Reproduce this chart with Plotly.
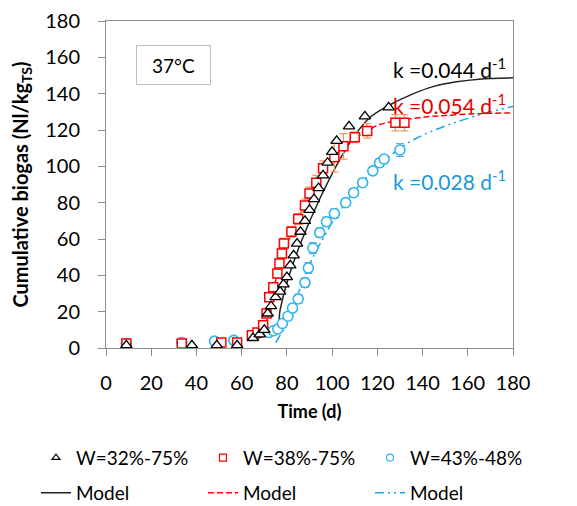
import plotly.graph_objects as go

# === data ===
t_32 = [9, 38, 49, 58, 65, 68, 70, 71.5, 73, 75, 77, 78.5, 80, 81.5, 83, 84.5,
        86, 88, 90, 92, 94, 96, 98, 100, 102, 107.5, 114.5, 125]
b_32 = [1.5, 1.5, 1.5, 1.5, 5.5, 7.5, 10, 19, 23, 28, 31, 35, 39, 45.5, 51, 57.5,
        64, 70, 76, 82, 88, 95, 102, 108, 114, 122, 127.5, 132.5]

t_38 = [9, 33.5, 51, 58, 64.5, 67, 69.5, 71, 72.2, 74, 75.8, 76.7, 77.8, 78.7,
        82, 85, 88, 90, 93, 96, 101, 105, 110, 115.5, 128, 132]
b_38 = [2.5, 2.5, 3, 3, 7, 8.5, 12.5, 19, 28, 33.5, 41, 46.5, 52, 57.5,
        64, 71, 78.5, 85, 91, 99, 105, 111, 116, 119.5, 124, 124]
e_38 = [0.5, 0.5, 0.5, 0.5, 1.5, 1.5, 2, 2, 2, 2, 2.5, 2.5, 3, 3,
        3, 3, 3.5, 3.5, 4, 4, 8, 7, 3, 4, 4.5, 4.5]

t_43 = [9, 33.5, 48, 56.5, 72, 74, 76, 78, 80.5, 82.5, 85, 88, 89.5, 91.5,
        94.5, 97.5, 101, 106, 109.5, 113.5, 118, 121, 123, 130]
b_43 = [2.5, 3, 3.8, 4.2, 8.5, 9.5, 10.5, 13.5, 17.5, 22, 27, 36, 44, 55,
        63.5, 69.5, 74, 80, 85.5, 91, 97.5, 102, 104, 109]
e_43 = [0.5, 0.5, 0.5, 0.5, 1, 1, 1, 1.5, 2, 2, 2.5, 2.5, 3, 3,
        2.5, 2.5, 2.5, 2, 2, 2, 2, 2, 2, 3.5]

# model curves
tm_32 = [64, 70, 75.5, 77, 80.5, 86.5, 94.5, 103.5, 110, 116.8, 125, 135, 145, 155, 165, 180]
bm_32 = [4.5, 6.5, 8.5, 21, 38, 59, 82, 104, 117, 127, 133.5, 139.5, 144, 146.5, 148, 148.7]

tm_38 = [64, 69, 72, 75, 78, 82, 86, 90, 95, 100, 105, 110, 116, 121, 128, 140, 150, 165, 180]
bm_38 = [5, 8, 20, 37, 51, 63, 74, 84, 95, 104, 110.5, 115.5, 119.8, 123, 124.8, 127, 128, 129, 129.4]

tm_43 = [75, 77, 80, 85, 90, 95, 100, 105, 110, 115, 120, 125, 130, 139, 153.6, 168, 180]
bm_43 = [3, 7, 14, 30, 46, 58, 69, 78, 86.5, 93.5, 99.5, 105, 110, 116.5, 123.8, 129.3, 133]

series_names = ["W=32%-75%", "W=38%-75%", "W=43%-48%"]
k_labels = ["k =0.044 d<sup>-1</sup>", "k =0.054 d<sup>-1</sup>", "k =0.028 d<sup>-1</sup>"]
k_y = [154, 134.5, 92.5]

BLACK = "#000000"
RED = "#FF0000"
BLUE = "#2EB5EE"
FONT = "Lato"

fig = go.Figure()

# model lines first so the markers sit on top (these go in the second legend row)
fig.add_trace(go.Scatter(x=tm_32, y=bm_32, mode="lines", name="Model", line_shape="spline",
                         line=dict(color="#222222", width=1.5), legend="legend2"))
fig.add_trace(go.Scatter(x=tm_38, y=bm_38, mode="lines", name="Model", line_shape="spline",
                         line=dict(color=RED, width=1.5, dash="6px,3px"), legend="legend2"))
fig.add_trace(go.Scatter(x=tm_43, y=bm_43, mode="lines", name="Model", line_shape="spline",
                         line=dict(color="#1AA7E6", width=1.5, dash="9px,4px,2px,4px,2px,4px"),
                         legend="legend2"))

fig.add_trace(go.Scatter(
    x=t_43, y=b_43, mode="markers", showlegend=False,
    error_y=dict(type="data", array=e_43, color="#6FA8DC", thickness=1.2, width=4),
    marker=dict(symbol="circle", size=10, color="white", line=dict(color=BLUE, width=1.6))))
fig.add_trace(go.Scatter(
    x=t_38, y=b_38, mode="markers", showlegend=False,
    error_y=dict(type="data", array=e_38, color="#EE9A60", thickness=1.3, width=4),
    marker=dict(symbol="square", size=9, color="white", line=dict(color=RED, width=1.5))))
fig.add_trace(go.Scatter(
    x=t_32, y=b_32, mode="markers", showlegend=False,
    marker=dict(symbol="triangle-up", size=10, color="white", line=dict(color=BLACK, width=1.3))))

# legend-only entries with the smaller symbols used in the legend
for name, sym, col in zip(series_names, ["triangle-up", "square", "circle"], [BLACK, RED, BLUE]):
    fig.add_trace(go.Scatter(x=[None], y=[None], mode="markers", name=name, legend="legend",
                             marker=dict(symbol=sym, size=7, color="white",
                                         line=dict(color=col, width=1.2))))

# k annotations
for txt, yy, col in zip(k_labels, k_y, [BLACK, "#E00000", "#1B98D5"]):
    fig.add_annotation(x=178, y=yy, text=txt, showarrow=False, xanchor="right",
                       yanchor="middle", font=dict(size=21, color=col, family=FONT))

# temperature box
fig.add_annotation(x=0.167, y=0.865, xref="paper", yref="paper", text="37°C",
                   xanchor="center", yanchor="middle",
                   showarrow=False, font=dict(size=19, color="black", family=FONT),
                   width=71, height=36, borderpad=1,
                   bordercolor="#BFBFBF", borderwidth=1, bgcolor="white")

axis_style = dict(showgrid=False, zeroline=False, showline=True, linecolor="#8C8C8C",
                  linewidth=1, mirror=True, ticks="outside", ticklen=7, tickcolor="#8C8C8C",
                  automargin=False, ticklabeloverflow="allow",
                  tickfont=dict(size=20, color="black", family=FONT))

fig.update_xaxes(range=[0, 180], dtick=20, tick0=0, ticklabelstandoff=10,
                 title=dict(text="<b>Time (d)</b>", font=dict(size=18, family=FONT), standoff=12),
                 **axis_style)
fig.update_yaxes(range=[0, 180], dtick=20, tick0=0, ticklabelstandoff=14,
                 title=dict(text="<b>Cumulative biogas (Nl/kg<sub>TS</sub>)</b>",
                            font=dict(size=20, family=FONT), standoff=12),
                 **axis_style)

legend_style = dict(orientation="h", xanchor="left", yanchor="middle",
                    entrywidth=122, entrywidthmode="pixels", traceorder="normal",
                    font=dict(size=19, family=FONT), bgcolor="rgba(0,0,0,0)")

# page body adds an 8px offset, so the figure is 8px smaller and the margins shifted
fig.update_layout(
    width=569, height=498,
    margin=dict(l=98, r=64, t=13, b=158, autoexpand=False),
    plot_bgcolor="white", paper_bgcolor="white",
    font=dict(family=FONT, color="black"),
    showlegend=True,
    legend=dict(x=-0.172, y=-0.336, **legend_style),
    legend2=dict(x=-0.172, y=-0.443, **legend_style),
)

fig.write_html("out.html")
